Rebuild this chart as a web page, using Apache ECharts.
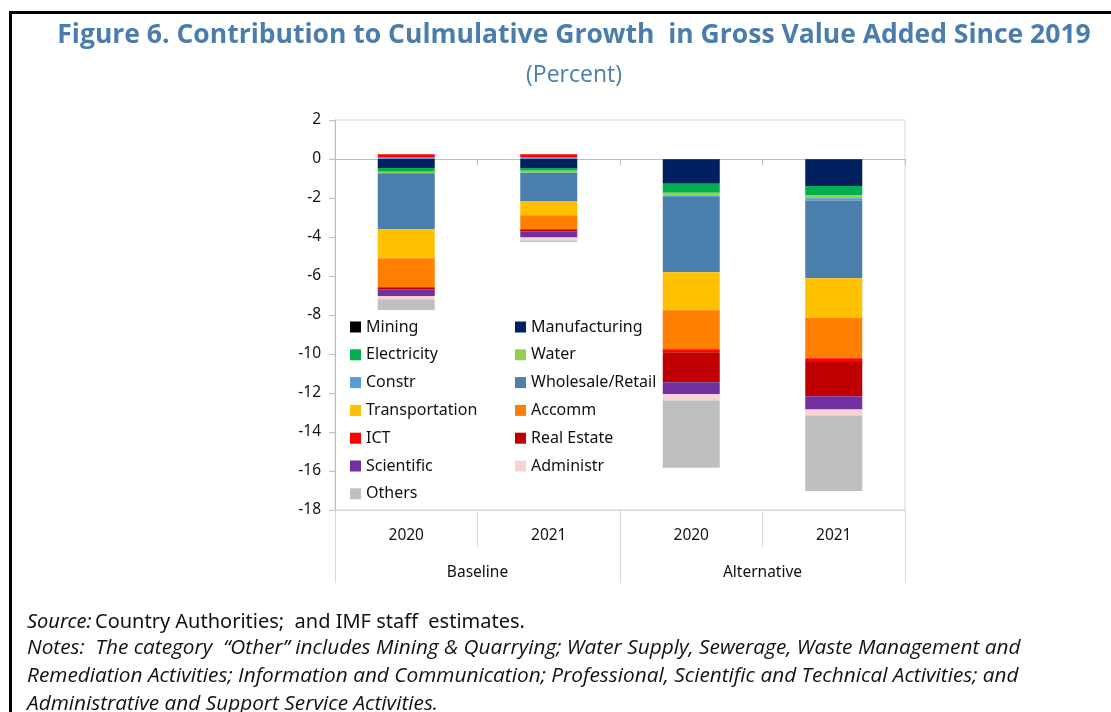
<!DOCTYPE html>
<html>
<head>
<meta charset="utf-8">
<script src="https://cdn.jsdelivr.net/npm/echarts@6/dist/echarts.min.js"></script>
<style>
html,body{margin:0;padding:0;background:#fff;}
#main{width:1111px;height:712px;}
</style>
</head>
<body>
<div id="main"></div>
<script>
// bars: Baseline 2020, Baseline 2021, Alternative 2020, Alternative 2021
var years = ['2020', '2021', '2020', '2021'];
var groups = ['Baseline', 'Alternative'];
var yTicks = [2, 0, -2, -4, -6, -8, -10, -12, -14, -16, -18];

var mining        = [0, 0, -0.02, -0.02];
var manufacturing = [-0.46, -0.46, -1.25, -1.37];
var electricity   = [-0.2, -0.14, -0.46, -0.48];
var water         = [-0.07, -0.1, -0.17, -0.14];
var constr        = [0.1, 0.1, -0.05, -0.13];
var wholesale     = [-2.87, -1.45, -3.86, -3.98];
var transport     = [-1.49, -0.73, -1.95, -2.03];
var accomm        = [-1.49, -0.72, -2.0, -2.07];
var ict           = [0.15, 0.15, -0.15, -0.19];
var realEstate    = [-0.1, -0.1, -1.54, -1.76];
var scientific    = [-0.34, -0.33, -0.62, -0.67];
var administr     = [-0.17, -0.15, -0.31, -0.31];
var others        = [-0.55, -0.07, -3.45, -3.88];

var seriesDefs = [
  ['Mining', mining, '#000000'],
  ['Manufacturing', manufacturing, '#002060'],
  ['Electricity', electricity, '#00b050'],
  ['Water', water, '#92d050'],
  ['Constr', constr, '#5b9bd5'],
  ['Wholesale/Retail', wholesale, '#4a7fad'],
  ['Transportation', transport, '#ffc000'],
  ['Accomm', accomm, '#ff8000'],
  ['ICT', ict, '#ff0000'],
  ['Real Estate', realEstate, '#c00000'],
  ['Scientific', scientific, '#7030a0'],
  ['Administr', administr, '#f8d3d3'],
  ['Others', others, '#bfbfbf']
];

var myChart = echarts.init(document.getElementById('main'));

var series = seriesDefs.map(function (d) {
  return {
    name: d[0],
    type: 'bar',
    stack: 'total',
    barWidth: '40%',
    xAxisIndex: 0,
    yAxisIndex: 0,
    data: d[1],
    itemStyle: {color: d[2]}
  };
});

var legendBase = {
  orient: 'vertical',
  itemWidth: 11,
  itemHeight: 11,
  itemGap: 11.8,
  icon: 'rect',
  textStyle: {fontFamily: 'Noto Sans', fontSize: 16, color: '#111', lineHeight: 16, padding: [0, 0, 0, 0]},
  selectedMode: false
};

myChart.setOption({
  animation: false,
  title: [{
    text: 'Figure 6. Contribution to Culmulative Growth  in Gross Value Added Since 2019',
    left: 569, top: 17, textAlign: 'center',
    textStyle: {fontFamily: 'Open Sans', fontWeight: 'bold', fontSize: 26.5, color: '#4a7dab'}
  }, {
    text: '(Percent)',
    left: 569, top: 59, textAlign: 'center',
    textStyle: {fontFamily: 'Open Sans', fontWeight: 'normal', fontSize: 23, color: '#4a7dab'}
  }],
  legend: [
    Object.assign({left: 345, top: 314,
      data: ['Mining', 'Electricity', 'Constr', 'Transportation', 'ICT', 'Scientific', 'Others']}, legendBase),
    Object.assign({left: 510, top: 314,
      data: ['Manufacturing', 'Water', 'Wholesale/Retail', 'Accomm', 'Real Estate', 'Administr']}, legendBase)
  ],
  grid: {left: 335, top: 120, width: 570, height: 390, show: true, borderColor: '#d9d9d9', borderWidth: 1},
  xAxis: [{
    type: 'category',
    data: years,
    position: 'bottom',
    axisLine: {onZero: false, lineStyle: {color: '#d9d9d9'}},
    axisTick: {show: true, interval: 0, length: 37, lineStyle: {color: '#d9d9d9'}},
    axisLabel: {margin: 18, fontFamily: 'Noto Sans', fontSize: 15.5, color: '#111'}
  }, {
    type: 'category',
    data: groups,
    position: 'bottom',
    axisLine: {show: false, onZero: false},
    axisTick: {show: true, interval: 0, length: 73, lineStyle: {color: '#d9d9d9'}},
    axisLabel: {margin: 55, fontFamily: 'Noto Sans', fontSize: 15.5, color: '#111'}
  }, {
    type: 'category',
    data: years,
    axisLine: {onZero: true, lineStyle: {color: '#bfbfbf'}},
    axisTick: {show: true, inside: true, interval: 0, length: 6, lineStyle: {color: '#bfbfbf'}},
    axisLabel: {show: false}
  }],
  yAxis: {
    type: 'value',
    min: -18, max: 2, interval: 2,
    axisLine: {show: true, lineStyle: {color: '#bfbfbf'}},
    axisTick: {show: true, length: 6, lineStyle: {color: '#bfbfbf'}},
    splitLine: {show: false},
    axisLabel: {margin: 14, fontFamily: 'Noto Sans', fontSize: 15.5, color: '#111'}
  },
  graphic: [{
    type: 'rect',
    shape: {x: 10.5, y: 12.5, width: 1200, height: 800},
    style: {fill: 'none', stroke: '#000', lineWidth: 3}
  }, {
    type: 'text', left: 27, top: 612,
    style: {
      rich: {
        i: {fontFamily: 'Noto Sans', fontStyle: 'italic', fontSize: 20, fill: '#111'},
        n: {fontFamily: 'Noto Sans', fontSize: 20, fill: '#111'}
      },
      text: '{i|Source:} {n|Country Authorities;  and IMF staff  estimates.}'
    }
  }, {
    type: 'text', left: 27, top: 634,
    style: {
      fontFamily: 'Open Sans', fontStyle: 'italic', fontSize: 20.8, fill: '#111', lineHeight: 28,
      text: 'Notes:  The category  \u201cOther\u201d includes Mining & Quarrying; Water Supply, Sewerage, Waste Management and\nRemediation Activities; Information and Communication; Professional, Scientific and Technical Activities; and\nAdministrative and Support Service Activities.'
    }
  }],
  series: series
});
</script>
</body>
</html>
